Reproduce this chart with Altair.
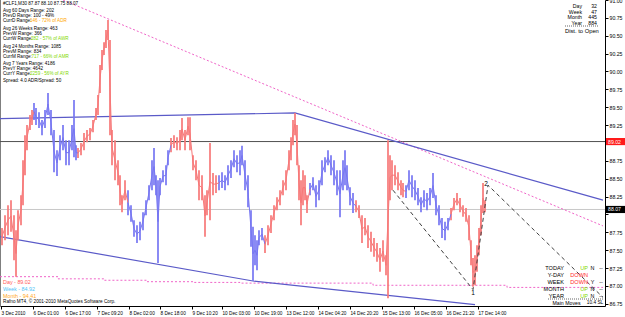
import json
import altair as alt
import pandas as pd

W, H = 605, 306
FONT = "Liberation Sans"
RED = "#F77878"
BLUE = "#7676F2"

# ---------------- price series (M30 bars, sampled) ----------------
bar_x = [2, 5, 8, 11, 14, 16, 18, 21, 23, 25, 27, 30, 32,
         34, 36, 39, 42, 45, 48, 51, 54, 57, 60, 63, 66, 69, 72, 74, 76,
         78, 81, 84, 87, 90, 93, 96, 98, 100, 102, 104, 106, 108, 110, 112, 115, 118, 120, 122, 125,
         128, 131, 134, 137, 140, 143, 146, 149, 152, 154, 156, 158, 160, 163, 166, 168,
         171, 174, 177, 180, 182, 185, 188, 190, 193, 196, 199, 202, 205, 207, 210, 213, 216,
         219, 222, 225, 228, 231, 234, 237, 240, 242, 245, 248, 251, 253, 255, 257, 259, 262,
         265, 268, 271, 274, 277, 280, 283, 286, 289, 291, 293, 295, 297, 299, 301, 303, 305, 307,
         310, 313, 316, 319, 322, 325, 328, 331, 334, 337, 340, 343, 345, 347, 350, 353,
         356, 359, 362, 365, 368, 371, 374, 377, 380, 383, 386, 388, 390, 392, 395, 398, 401, 403,
         406, 409, 412, 415, 418, 421, 424, 427, 430, 433, 436, 439, 442, 445, 448,
         451, 454, 457, 460, 463, 466, 469, 471, 473, 475, 477, 479, 481, 483, 485]
bar_high = [87.81, 87.99, 88.13, 88.20, 87.99, 87.78, 88.06, 88.27, 88.76, 89.11, 89.25, 89.39, 89.46,
            89.56, 89.49, 89.43, 89.32, 89.46, 89.70, 89.46, 89.18, 88.90, 89.11, 89.25, 89.04, 89.04, 89.25, 89.60, 88.97,
            88.93, 89.00, 89.14, 89.18, 89.21, 89.32, 89.49, 89.67, 90.09, 90.30, 90.41, 90.58, 90.72, 90.44, 89.18, 89.04, 88.76, 88.55, 88.27, 88.48,
            88.34, 88.13, 87.92, 87.85, 87.90, 88.03, 88.20, 88.41, 88.76, 88.93, 88.55, 88.48, 88.51, 88.62, 88.69, 88.90,
            89.07, 89.11, 89.08, 89.18, 89.35, 89.18, 89.36, 89.36, 88.83, 88.76, 88.62, 88.55, 88.27, 88.34, 89.00, 88.58, 88.55,
            88.55, 88.59, 88.55, 88.69, 88.76, 88.90, 88.83, 88.90, 88.96, 88.76, 88.55, 88.06, 87.83, 87.71, 87.64, 87.78, 87.81,
            87.71, 87.85, 87.99, 88.13, 88.24, 88.34, 88.48, 88.62, 88.90, 89.08, 89.32, 89.42, 89.25, 88.69, 88.48, 88.62, 88.55, 88.27,
            88.44, 88.52, 88.41, 88.48, 88.76, 88.80, 88.90, 88.83, 88.76, 88.62, 88.62, 88.76, 88.90, 88.69, 88.38, 88.30,
            88.20, 88.13, 87.99, 87.95, 87.85, 87.76, 87.67, 87.60, 87.53, 87.64, 87.43, 89.04, 88.83, 88.76, 88.69, 88.59, 88.48, 88.44,
            88.41, 88.62, 88.55, 88.48, 88.37, 88.24, 88.34, 88.30, 88.37, 88.58, 88.27, 88.13, 87.95, 87.90, 87.95,
            88.09, 88.23, 88.30, 88.23, 88.13, 88.09, 87.99, 87.64, 87.39, 87.43, 87.57, 87.81, 88.13, 88.44, 88.20]
bar_low = [87.57, 87.64, 87.71, 87.76, 87.36, 87.13, 87.64, 87.85, 88.13, 88.55, 88.90, 89.18, 89.25,
           89.32, 89.25, 89.21, 89.11, 89.21, 89.39, 89.11, 88.59, 88.54, 88.76, 88.90, 88.69, 88.69, 88.90, 88.80, 88.76,
           88.79, 88.83, 88.90, 89.01, 89.04, 89.15, 89.32, 89.39, 89.70, 90.02, 90.23, 90.33, 90.44, 89.11, 88.69, 88.48, 88.41, 88.13, 88.03, 88.20,
           87.99, 87.90, 87.69, 87.60, 87.64, 87.78, 87.99, 88.20, 88.34, 88.41, 88.27, 87.32, 88.27, 88.45, 88.41, 88.69,
           88.87, 88.93, 88.90, 88.90, 89.04, 88.90, 89.11, 88.90, 88.62, 88.48, 88.20, 88.20, 87.69, 87.99, 87.92, 88.27, 88.30,
           88.34, 88.37, 88.34, 88.41, 88.51, 88.66, 88.59, 88.55, 88.69, 88.34, 88.10, 87.55, 87.07, 87.29, 87.22, 87.57, 87.64,
           87.46, 87.57, 87.74, 87.92, 88.06, 88.13, 88.27, 88.34, 88.62, 88.76, 88.97, 89.11, 88.69, 88.20, 87.85, 88.13, 88.20, 88.02,
           88.27, 88.34, 88.10, 88.20, 88.41, 88.59, 88.69, 88.55, 88.41, 88.27, 87.96, 88.34, 88.41, 88.34, 88.13, 88.02,
           88.03, 87.95, 87.60, 87.71, 87.53, 87.48, 87.41, 87.34, 87.20, 87.34, 87.15, 86.83, 88.20, 88.34, 88.41, 88.34, 88.27, 88.24,
           88.23, 88.34, 88.24, 88.20, 88.13, 88.03, 88.10, 88.06, 88.13, 88.23, 87.99, 87.85, 87.67, 87.64, 87.78,
           87.92, 88.06, 88.13, 88.03, 87.97, 87.90, 87.64, 87.29, 86.99, 87.01, 87.20, 87.43, 87.71, 88.02, 88.03]
trend_starts = [0, 33, 77, 127, 170, 218, 264, 309, 355, 405, 450]
trend_dirs = ["up", "down", "up", "down", "up", "down", "up", "down", "up", "down", "up"]

# ---------------- overlays ----------------
day_open = 89.02
bid_price = 88.07
upper_ch_x = [0, 295, 603]
upper_ch_p = [89.34, 89.42, 88.20]
lower_ch_x = [0, 253, 475]
lower_ch_p = [87.69, 87.07, 86.74]
pink_up_x = [63, 603]
pink_up_p = [91.00, 87.84]
pink_low_x = [0, 58, 104, 147, 193, 240, 373, 507, 603]
pink_low_p = [87.13, 87.10, 87.08, 87.06, 87.05, 87.04, 87.01, 86.98, 86.98]
wave_x = [393, 473, 488, 603]
wave_p = [88.34, 86.95, 88.41, 86.84]
wave_lbl_x = [473, 486]
wave_lbl_p = [86.90, 88.43]
wave_lbl = ["1", "2"]

tick_bars = [1, 33, 65, 97, 129, 160, 192, 222, 254, 286, 318, 350, 382, 414, 446, 478]
tick_labels = ["3 Dec 2010", "6 Dec 01:00", "6 Dec 17:00", "7 Dec 09:20", "8 Dec 02:00",
               "8 Dec 18:00", "9 Dec 10:20", "10 Dec 03:00", "10 Dec 19:00", "13 Dec 12:00",
               "14 Dec 04:20", "14 Dec 20:20", "15 Dec 13:00", "16 Dec 05:00", "16 Dec 21:20",
               "17 Dec 14:00"]
price_ticks = [86.75, 87.00, 87.25, 87.50, 87.75, 88.00, 88.25, 88.50, 88.75,
               89.00, 89.25, 89.50, 89.75, 90.00, 90.25, 90.50, 90.75, 91.00]
hidden_price_labels = [88.00, 89.00]

info_lines = ["#CLF1,M30  87.87 88.10 87.75 88.07", "Avg 60 Days Range: 202", "PrevD Range: 100 - 49%",
              "CurrD Range: ", "Avg 26 Weeks Range: 463", "PrevW Range: 366", "CurrW Range: ",
              "Avg 24 Months Range: 1085", "PrevM Range: 834", "CurrM Range: ",
              "Avg 7 Years Range: 4186", "PrevY Range: 4642", "CurrY Range: ",
              "Spread: 4.0 ADR/Spread: 50"]
info_extra = {3: ("146 - 72% of ADR", "#FFA500"), 6: ("282 - 57% of AWR", "#7FD800"),
              9: ("717 - 66% of AMR", "#7FD800"), 12: ("2259 - 56% of AYR", "#7FD800")}
range_names = ["Day", "Week", "Month", "Year"]
range_vals = ["32", "47", "445", "884"]
level_texts = [("Day    - 89.02", "#FF5A5A"), ("Week - 84.92", "#4FC3F7"), ("Month - 94.41", "#FFA726")]
move_names = ["TODAY", "Y-DAY", "WEEK", "MONTH", "YEAR"]
move_dirs = ["UP", "DOWN", "DOWN", "UP", "UP"]
move_flag = ["N", "", "Y", "N", "N"]
move_dash = ["--", "", "--", "--", "--"]

# ---------------- scales / axes ----------------
xs = alt.Scale(domain=[0, W], nice=False, zero=False)
ys = alt.Scale(domain=[86.72, 91.0], nice=False, zero=False)
x_axis = alt.Axis(values=tick_bars,
                  labelExpr=f"{json.dumps(tick_labels)}[indexof({json.dumps(tick_bars)}, datum.value)]",
                  labelAlign="left", labelFontSize=4.7, labelFont=FONT, labelColor="black",
                  tickSize=3, tickColor="black", domainColor="black", labelPadding=1,
                  grid=False, title=None, labelOverlap=False, labelFlush=False)
hide_expr = " || ".join(f"abs(datum.value - {v}) < 0.001" for v in hidden_price_labels)
y_axis = alt.Axis(values=price_ticks, labelExpr=f"({hide_expr}) ? '' : format(datum.value, '.2f')",
                  orient="right", labelFontSize=5.2,
                  labelFont=FONT, labelColor="black", tickSize=3, tickColor="black",
                  domainColor="black", labelPadding=1, grid=False, title=None,
                  labelOverlap=False, labelFlush=False)


def X(f):
    return alt.X(f, type="quantitative", scale=xs, axis=x_axis)


def Y(f):
    return alt.Y(f, type="quantitative", scale=ys, axis=y_axis)


# ---------------- frames ----------------
df = pd.DataFrame({"bar": bar_x, "high": bar_high, "low": bar_low})
df["seg"] = [sum(1 for s in trend_starts if s <= b) - 1 for b in bar_x]
df["trend"] = [trend_dirs[s] for s in df["seg"]]
df["mid"] = (df["high"] + df["low"]) / 2
parts = []
for s in range(len(trend_starts)):
    parts.append(df[df.seg == s])
    nxt = df[df.seg == s + 1]
    if len(nxt):
        r = nxt.iloc[[0]].copy()
        r["seg"] = s
        r["trend"] = trend_dirs[s]
        parts.append(r)
mid_df = pd.concat(parts, ignore_index=True)
color = alt.Color("trend:N", scale=alt.Scale(domain=["up", "down"], range=[RED, BLUE]), legend=None)

layers = []
# left border
layers.append(alt.Chart(alt.Data(values=[{}])).mark_rule(color="black", strokeWidth=1)
              .encode(x=alt.XDatum(0, type="quantitative", scale=xs, axis=x_axis)))
# bid and day open lines
layers.append(alt.Chart(pd.DataFrame({"p": [bid_price]})).mark_rule(color="#C8C8C8", strokeWidth=1)
              .encode(y=Y("p")))
layers.append(alt.Chart(pd.DataFrame({"p": [day_open]})).mark_rule(color="#505050", strokeWidth=1)
              .encode(y=Y("p")))
# pink levels
layers.append(alt.Chart(pd.DataFrame({"x": pink_up_x, "p": pink_up_p}))
              .mark_line(color="#F064C8", strokeDash=[2, 2], strokeWidth=1, clip=True)
              .encode(x=X("x"), y=Y("p")))
layers.append(alt.Chart(pd.DataFrame({"x": pink_low_x, "p": pink_low_p}))
              .mark_line(color="#F064C8", strokeDash=[2, 2], strokeWidth=1, clip=True, interpolate="step-after")
              .encode(x=X("x"), y=Y("p")))
# channel lines
ch = pd.concat([pd.DataFrame({"x": upper_ch_x, "p": upper_ch_p, "l": "u"}),
                pd.DataFrame({"x": lower_ch_x, "p": lower_ch_p, "l": "d"})])
layers.append(alt.Chart(ch).mark_line(color="#5A5AC8", strokeWidth=1.2, clip=True)
              .encode(x=X("x"), y=Y("p"), detail="l:N"))
# price
layers.append(alt.Chart(df).mark_rule(strokeWidth=1.7, clip=True)
              .encode(x=X("bar"), y=Y("low"), y2="high", color=color))
layers.append(alt.Chart(mid_df).mark_line(strokeWidth=1.0, clip=True)
              .encode(x=X("bar"), y=Y("mid"), color=color, detail="seg:N"))
# wave pattern
layers.append(alt.Chart(pd.DataFrame({"x": wave_x, "p": wave_p}))
              .mark_line(color="#404040", strokeDash=[4, 3], strokeWidth=1, clip=True)
              .encode(x=X("x"), y=Y("p")))
layers.append(alt.Chart(pd.DataFrame({"x": wave_lbl_x, "p": wave_lbl_p, "t": wave_lbl}))
              .mark_text(fontSize=6.5, font=FONT, color="black", baseline="middle")
              .encode(x=X("x"), y=Y("p"), text="t:N"))
# price boxes on the axis
boxes = pd.DataFrame({"p": [day_open, bid_price], "c": ["#FF1A1A", "#000000"],
                      "t": [f"{day_open:.2f}", f"{bid_price:.2f}"]})
boxes["lo"] = boxes["p"] - 0.05
boxes["hi"] = boxes["p"] + 0.05
layers.append(alt.Chart(boxes).mark_rect()
              .encode(x=alt.value(606), x2=alt.value(625), y=Y("lo"), y2="hi", color=alt.Color("c:N", scale=None)))
layers.append(alt.Chart(boxes).mark_text(fontSize=5.2, font=FONT, color="white", align="left", baseline="middle")
              .encode(x=alt.value(608), y=Y("p"), text="t:N"))


def txt(s, x, y, color="black", size=4.3, align="left", weight="normal"):
    return (alt.Chart(alt.Data(values=[{}]))
            .mark_text(text=s, color=color, fontSize=size, font=FONT, align=align, baseline="middle",
                       fontWeight=weight)
            .encode(x=alt.value(x), y=alt.value(y)))


def hline(x1, x2, y, color="#404040", dash=(1, 1)):
    return (alt.Chart(alt.Data(values=[{}]))
            .mark_rule(color=color, strokeWidth=0.8, strokeDash=list(dash))
            .encode(x=alt.value(x1), x2=alt.value(x2), y=alt.value(y)))


# top-left info block
info_y = [4, 10.7, 15.9, 21.2, 29, 34.2, 39.4, 46.5, 51.7, 56.9, 63.5, 68.7, 73.9, 81]
info_x2 = {3: 30, 6: 31, 9: 31.5, 12: 30}
for i, s in enumerate(info_lines):
    layers.append(txt(s, 3, info_y[i], size=4.6))
    if i in info_extra:
        layers.append(txt(info_extra[i][0], info_x2[i], info_y[i], color=info_extra[i][1], size=4.6))

# top-right range block
rng_y = [6, 11.5, 17, 22.5]
for i in range(4):
    layers.append(txt(range_names[i], 582, rng_y[i], align="right", size=5.2))
    layers.append(txt(range_vals[i], 597, rng_y[i], align="right", size=5.2))
layers.append(hline(565, 598, 26))
layers.append(txt("Dist. to Open", 565, 31, size=5.8))

# bottom-left levels and copyright
lvl_y = [281.7, 289, 296]
for i, (s, c) in enumerate(level_texts):
    layers.append(txt(s, 3, lvl_y[i], color=c, size=5.4))
layers.append(txt("Rafno MT4, \u00a9 2001-2010 MetaQuotes Software Corp.", 3, 302.3, size=4.7))

# bottom-right direction table
mv_y = [268.3, 275, 282.3, 289, 295.7]
for i in range(5):
    layers.append(txt(move_names[i], 564, mv_y[i], size=5.6, align="right"))
    dcol = "#7FD800" if move_dirs[i] == "UP" else "#FF2A2A"
    layers.append(txt(move_dirs[i], 588, mv_y[i], color=dcol, size=5.6, align="right"))
    if move_flag[i]:
        layers.append(txt(move_flag[i], 592.5, mv_y[i], size=5.4, align="center"))
    if move_dash[i]:
        layers.append(txt(move_dash[i], 601, mv_y[i], size=5.4, align="center"))
layers.append(hline(548, 604, 299))
layers.append(txt("Main Moves", 566.5, 302.5, size=5.2, align="center"))
layers.append(txt("10.4 SL", 595, 302.5, size=4.8, align="center"))

chart = (alt.layer(*layers)
         .properties(width=W, height=H,
                     autosize=alt.AutoSizeParams(type="none"),
                     padding={"left": 0, "top": 0, "right": 20, "bottom": 11},
                     background="white")
         .configure_view(stroke=None))

chart.save("out.html", embed_options={"renderer": "svg", "actions": False})
